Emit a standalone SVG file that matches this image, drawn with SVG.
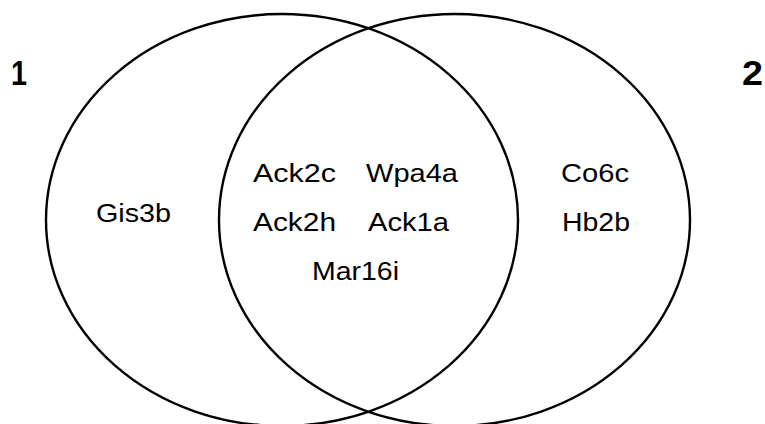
<svg xmlns="http://www.w3.org/2000/svg" width="765" height="424" viewBox="0 0 765 424">
  <style>
    .set { fill: none; stroke: #000; stroke-width: 2.4; }
    .item { font-family: "Liberation Sans", Arial, sans-serif; font-size: 26px; fill: #000; }
    .setlabel { font-family: "Liberation Sans", Arial, sans-serif; font-size: 35px; font-weight: bold; fill: #000; }
  </style>
  <rect width="765" height="424" fill="#fff"/>

  <!-- set outlines -->
  <g id="set1">
    <ellipse class="set" cx="282" cy="220" rx="236" ry="206"/>
    <text class="setlabel" x="11" y="85" textLength="16" lengthAdjust="spacingAndGlyphs">1</text>
  </g>
  <g id="set2">
    <ellipse class="set" cx="454.5" cy="220" rx="235.5" ry="206"/>
    <text class="setlabel" x="742" y="85" textLength="21" lengthAdjust="spacingAndGlyphs">2</text>
  </g>

  <!-- members only in set 1 -->
  <g id="only1">
    <text class="item" x="96" y="222" textLength="75" lengthAdjust="spacingAndGlyphs">Gis3b</text>
  </g>

  <!-- members of both sets -->
  <g id="both">
    <text class="item" x="253" y="182" textLength="83" lengthAdjust="spacingAndGlyphs">Ack2c</text>
    <text class="item" x="366" y="182" textLength="92" lengthAdjust="spacingAndGlyphs">Wpa4a</text>
    <text class="item" x="253" y="231" textLength="83" lengthAdjust="spacingAndGlyphs">Ack2h</text>
    <text class="item" x="368" y="231" textLength="81" lengthAdjust="spacingAndGlyphs">Ack1a</text>
    <text class="item" x="312" y="280" textLength="87" lengthAdjust="spacingAndGlyphs">Mar16i</text>
  </g>

  <!-- members only in set 2 -->
  <g id="only2">
    <text class="item" x="561" y="182" textLength="68" lengthAdjust="spacingAndGlyphs">Co6c</text>
    <text class="item" x="562" y="231" textLength="68" lengthAdjust="spacingAndGlyphs">Hb2b</text>
  </g>
</svg>
